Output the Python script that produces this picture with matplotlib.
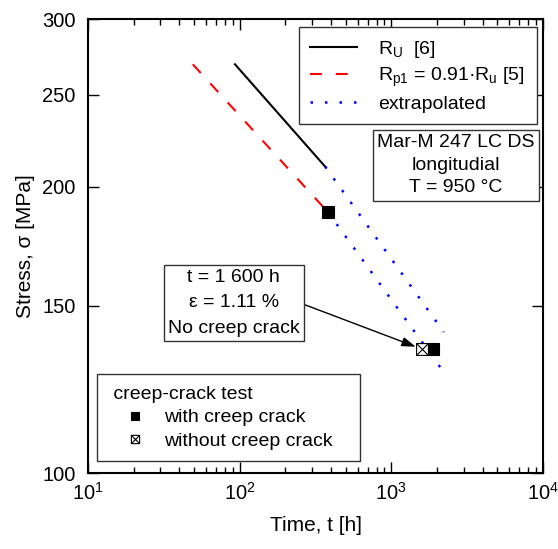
import matplotlib
matplotlib.use("Agg")
import matplotlib.pyplot as plt
from matplotlib.path import Path
from matplotlib.ticker import FixedLocator, FixedFormatter, NullLocator

plt.rcParams['font.family'] = 'Liberation Sans'
plt.rcParams['mathtext.fontset'] = 'custom'
plt.rcParams['mathtext.rm'] = 'Liberation Sans'
plt.rcParams['mathtext.it'] = 'Liberation Sans:italic'
plt.rcParams['mathtext.default'] = 'regular'

# rupture strength Ru [6]
ru_time = [93, 366]
ru_stress = [269, 210]

# Rp1 = 0.91*Ru [5]
rp1_time = [49, 383]
rp1_stress = [269, 188]

# extrapolation of both curves
ext_ru_time = [366, 2220]
ext_ru_stress = [210, 140.7]
ext_rp1_time = [383, 2220]
ext_rp1_stress = [188, 127.7]

# creep-crack tests
crack_time = [383, 1890]
crack_stress = [188, 135]
nocrack_time = [1600]
nocrack_stress = [135]

ytick_values = [100, 150, 200, 250, 300]
ytick_labels = ['100', '150', '200', '250', '300']

note_text = 't = 1 600 h\n\u03b5 = 1.11 %\nNo creep crack'
alloy_text = 'Mar-M 247 LC DS\nlongitudial\nT = 950 \u00b0C'

# square with a cross inside
crossed_box = Path(
    [(-1, -1), (1, -1), (1, 1), (-1, 1), (-1, -1), (-1, -1), (1, 1), (-1, 1), (1, -1)],
    [Path.MOVETO, Path.LINETO, Path.LINETO, Path.LINETO, Path.CLOSEPOLY,
     Path.MOVETO, Path.LINETO, Path.MOVETO, Path.LINETO])

fig = plt.figure(figsize=(5.58, 5.49), dpi=100)
ax = fig.add_axes([0.158, 0.138, 0.815, 0.827])

l_ru, = ax.plot(ru_time, ru_stress, color='black', lw=1.5)
l_rp1, = ax.plot(rp1_time, rp1_stress, color='red', lw=1.5, dashes=(5.7, 6.7))
l_ext, = ax.plot(ext_ru_time, ext_ru_stress, color='blue', lw=1.8, dashes=(1, 4.8))
ax.plot(ext_rp1_time, ext_rp1_stress, color='blue', lw=1.8, dashes=(1, 4.8))

m_crack, = ax.plot(crack_time, crack_stress, ls='none', marker='s', ms=8.5,
                   mfc='black', mec='black', mew=0.8, zorder=5)
m_nocrack, = ax.plot(nocrack_time, nocrack_stress, ls='none', marker=crossed_box, ms=8.5,
                     mfc='white', mec='black', mew=0.8, zorder=5)

ax.set_xscale('log')
ax.set_yscale('log')
ax.set_xlim(10, 1e4)
ax.set_ylim(100, 300)
ax.yaxis.set_major_locator(FixedLocator(ytick_values))
ax.yaxis.set_major_formatter(FixedFormatter(ytick_labels))
ax.yaxis.set_minor_locator(NullLocator())

ax.tick_params(which='both', direction='in', top=True, right=True, width=1, labelsize=14.5)
ax.tick_params(which='major', length=8)
ax.tick_params(axis='x', which='major', pad=6)
ax.tick_params(axis='y', which='major', pad=9)
ax.tick_params(which='minor', length=4.5)
for sp in ax.spines.values():
    sp.set_linewidth(1.5)

ax.set_xlabel('Time, t [h]', fontsize=15, labelpad=9)
ax.set_ylabel('Stress, \u03c3 [MPa]', fontsize=15, labelpad=5)

leg1 = ax.legend([l_ru, l_rp1, l_ext],
                 ['R$_U$  [6]', 'R$_{p1}$ = 0.91\u00b7R$_u$ [5]', 'extrapolated'],
                 loc='upper right', bbox_to_anchor=(0.986, 0.982), borderaxespad=0,
                 fontsize=14, handlelength=2.4, handletextpad=1.1, borderpad=0.6,
                 labelspacing=0.3, fancybox=False, edgecolor='#333333', framealpha=1)
leg1.get_frame().set_linewidth(1)
ax.add_artist(leg1)

# creep-crack test legend, title and markers set in a little from the frame
leg2 = ax.legend([m_crack, m_nocrack], ['with creep crack', 'without creep crack   '],
                 title=' creep-crack test', title_fontsize=14, alignment='left',
                 loc='lower left', bbox_to_anchor=(0.019, 0.026), borderaxespad=0,
                 fontsize=14, handlelength=2.7, handletextpad=0.15, borderpad=0.6,
                 labelspacing=0.3, markerscale=0.7, fancybox=False,
                 edgecolor='#333333', framealpha=1)
leg2.get_frame().set_linewidth(1)

ax.text(0.808, 0.678, alloy_text, transform=ax.transAxes, ha='center', va='center',
        fontsize=14, linespacing=1.42,
        bbox=dict(boxstyle='square,pad=0.22', fc='white', ec='#333333', lw=1))

ax.annotate(note_text, xy=(nocrack_time[0], nocrack_stress[0]),
            xytext=(0.32, 0.3755), textcoords='axes fraction',
            ha='center', va='center', fontsize=14, linespacing=1.65,
            bbox=dict(boxstyle='square,pad=0.22', fc='white', ec='#333333', lw=1),
            arrowprops=dict(arrowstyle='-|>,head_length=0.6,head_width=0.2', color='black',
                            lw=1, relpos=(1.0, 0.5), shrinkA=0, shrinkB=5,
                            mutation_scale=14))

fig.savefig('out.png', dpi=100)
